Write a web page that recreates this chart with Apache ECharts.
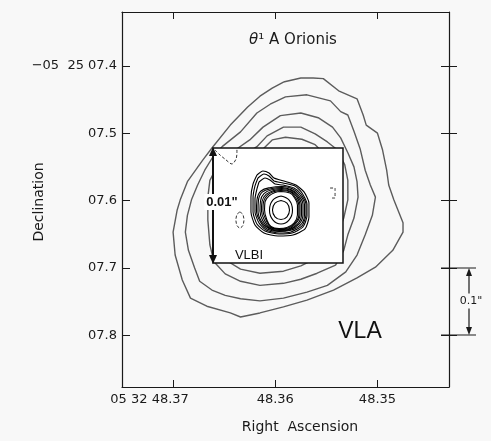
<!DOCTYPE html>
<html>
<head>
<meta charset="utf-8">
<script src="https://cdn.jsdelivr.net/npm/echarts@6/dist/echarts.min.js"></script>
<style>
html, body { margin: 0; background: #f8f8f8; }
#main { width: 491px; height: 441px; }
</style>
</head>
<body>
<div id="main"></div>
<script>
// RA axis: offset from 48.37s in ms (positive to the right), Dec axis: offset from 07.4" in 0.01"
var raTicks = [0, 10, 20];
var decTicks = [0, 10, 20, 30, 40];

// VLA contours, outer to inner
var vla1 = [[10.8, 2.4], [12.5, 1.8], [13.7, 1.8], [14.7, 1.9], [16.2, 3.7], [18.0, 4.9], [18.6, 7.3], [18.9, 8.8],
    [20.0, 10.0], [20.5, 12.5], [20.9, 15.5], [21.1, 17.7], [21.6, 19.9], [22.5, 23.3], [22.5, 24.7], [21.5, 27.4],
    [19.8, 29.9], [18.0, 31.5], [15.7, 33.3], [13.1, 34.8], [10.8, 35.8], [8.5, 36.7], [6.6, 37.3], [5.6, 36.7],
    [3.3, 35.7], [1.7, 34.5], [0.9, 31.8], [0.2, 28.1], [0.0, 24.7], [0.4, 21.4], [0.7, 19.9], [1.4, 17.2],
    [2.2, 15.5], [2.9, 14.0], [3.8, 12.2], [5.6, 8.8], [7.3, 6.1], [8.5, 4.5], [9.7, 3.3]];
var vla2 = [[9.5, 5.7], [11.0, 4.6], [13.1, 4.3], [15.4, 5.2], [16.4, 6.8], [17.1, 7.3], [17.7, 9.7], [18.3, 12.3],
    [18.8, 15.5], [19.3, 17.7], [19.8, 19.5], [19.5, 22.2], [18.8, 25.1], [18.0, 28.1], [16.9, 30.6], [15.1, 32.6],
    [13.1, 33.6], [10.8, 34.5], [8.5, 34.9], [6.6, 34.6], [5.1, 34.1], [3.8, 33.3], [2.6, 32.0], [2.1, 30.0],
    [1.5, 27.4], [1.2, 24.7], [1.4, 22.2], [1.8, 19.9], [2.4, 17.7], [3.1, 15.5], [3.9, 13.5], [4.8, 12.0],
    [6.6, 9.8], [8.2, 7.0]];
var vla3 = [[7.5, 11.0], [8.8, 9.1], [10.5, 7.4], [12.5, 7.0], [14.2, 7.7], [15.6, 9.1], [16.4, 10.7], [17.1, 12.9],
    [17.7, 15.0], [18.0, 17.2], [18.1, 19.5], [17.7, 22.6], [17.1, 25.1], [16.7, 27.4], [15.9, 29.6], [14.1, 30.8],
    [12.5, 31.7], [10.8, 32.3], [8.5, 32.6], [6.6, 32.0], [5.1, 30.9], [4.0, 29.1], [3.6, 26.6], [3.4, 22.9],
    [3.4, 19.5], [3.6, 17.0], [4.4, 14.7], [5.8, 12.8]];
var vla4 = [[8.2, 12.0], [9.2, 10.4], [10.8, 9.1], [12.5, 9.1], [13.9, 10.1], [15.1, 11.3], [16.1, 12.5], [16.8, 14.7],
    [17.1, 17.0], [17.1, 19.9], [16.7, 22.6], [15.9, 25.9], [14.4, 28.3], [12.5, 29.7], [10.8, 30.5], [8.5, 30.8],
    [6.6, 30.2], [5.1, 28.8], [4.4, 25.9], [4.3, 22.2], [4.6, 18.4], [5.4, 15.5], [6.8, 13.4]];
var vla5 = [[8.7, 12.5], [9.7, 11.0], [11.0, 10.6], [12.6, 10.9], [13.9, 11.7], [14.9, 13.2], [15.6, 16.2], [15.7, 19.9],
    [15.2, 23.6], [13.9, 26.6], [12.0, 28.1], [9.5, 28.4], [7.1, 27.7], [5.6, 25.6], [5.1, 22.2], [5.4, 18.4],
    [6.4, 15.5], [7.5, 13.7]];

// VLBI contours, offsets from the peak in 0.1 mas, outer to inner
var vlbi1 = [[-20.9, -30.4], [-15.7, -33.9], [-10.4, -32.2], [-6.1, -27.8], [2.6, -25.2], [13.0, -21.7], [20.0, -15.7], [24.3, -6.1], [24.3, 6.1], [20.9, 16.5], [10.4, 21.7], [-2.6, 22.6], [-14.8, 20.0], [-22.6, 13.0], [-26.1, 1.7], [-26.1, -11.3], [-24.3, -22.6]];
var vlbi2 = [[-20.0, -27.8], [-14.8, -31.3], [-10.4, -29.6], [-6.1, -25.2], [1.7, -23.5], [12.2, -20.9], [18.3, -14.8], [22.6, -5.2], [22.6, 5.2], [19.1, 14.8], [9.6, 20.0], [-1.7, 20.9], [-13.9, 18.3], [-20.9, 12.2], [-24.3, 1.7], [-24.3, -10.4], [-22.6, -20.9]];
var vlbi3 = [[-19.1, -24.3], [-13.9, -27.8], [-9.6, -26.1], [-5.2, -22.6], [1.7, -21.7], [11.3, -19.1], [17.4, -13.9], [21.7, -5.2], [21.7, 4.3], [18.3, 13.9], [8.7, 19.1], [-1.7, 20.0], [-13.0, 17.4], [-19.1, 11.3], [-22.6, 1.7], [-22.6, -9.6], [-20.9, -18.3]];
var vlbi4 = [[0.9, -20.4], [10.4, -18.3], [16.5, -13.0], [20.4, -4.8], [20.4, 4.3], [17.0, 13.0], [7.8, 17.8], [-1.7, 18.7], [-12.2, 16.5], [-17.8, 10.4], [-21.3, 0.9], [-20.9, -8.7], [-17.4, -16.5], [-8.7, -19.6]];
var vlbi5 = [[0.9, -19.6], [9.6, -17.4], [15.2, -12.6], [19.1, -4.8], [19.1, 4.3], [15.7, 12.2], [7.0, 17.4], [-1.7, 18.3], [-11.3, 15.7], [-17.0, 10.0], [-20.0, 0.9], [-19.6, -8.3], [-16.1, -15.7], [-7.8, -18.7]];
var vlbi6 = [[0.9, -18.7], [9.1, -17.0], [14.3, -12.2], [17.8, -4.3], [17.8, 4.3], [14.3, 12.2], [6.5, 17.0], [-1.7, 17.8], [-10.4, 15.7], [-15.7, 9.6], [-18.3, 0.9], [-17.8, -7.8], [-14.8, -14.3], [-7.0, -17.8]];
var vlbi7 = [[0.4, -17.8], [8.7, -16.1], [13.5, -11.7], [16.5, -4.3], [16.5, 4.3], [13.0, 11.7], [6.1, 16.5], [-1.7, 17.0], [-9.6, 15.2], [-14.3, 9.1], [-17.0, 0.4], [-16.5, -7.4], [-13.0, -13.5], [-6.1, -17.0]];
var vlbi8 = [[0, -17.0], [8.3, -15.7], [12.2, -11.3], [15.5, -4.3], [15.5, 4.3], [12.2, 11.3], [5.7, 15.9], [-1.7, 16.5], [-9.1, 14.8], [-13.0, 8.7], [-15.7, 0], [-15.2, -7.0], [-11.7, -12.9], [-5.7, -16.1]];
var vlbi9 = [[0, -16.1], [7.8, -14.8], [11.3, -11.3], [14.3, -4.3], [14.3, 4.3], [11.3, 11.3], [5.2, 15.2], [-1.7, 16.1], [-8.7, 14.3], [-12.2, 8.7], [-14.3, 0], [-13.9, -7.0], [-10.4, -12.2], [-5.2, -15.2]];
var vlbi10 = [[0, -12.2], [7.1, -8.6], [10.0, 0], [7.1, 8.6], [0, 12.2], [-7.1, 8.6], [-10.0, 0], [-7.1, -8.6]];
var vlbi11 = [[0, -8.3], [5.2, -5.9], [7.4, 0], [5.2, 5.9], [0, 8.3], [-5.2, 5.9], [-7.4, 0], [-5.2, -5.9]];

// negative (dashed) VLBI contours
var vlbiNegA = [[-57.4, -52.2], [-53.0, -47.8], [-48.7, -44.3], [-42.6, -40.0], [-39.1, -44.3], [-38.3, -49.6], [-38.3, -53.9]];
var vlbiNegB = [[-35.7, 1.7], [-33.2, 3.8], [-32.2, 8.7], [-33.2, 13.6], [-35.7, 15.7], [-38.2, 13.6], [-39.2, 8.7], [-38.2, 3.8], [-35.7, 1.7]];
var vlbiNegC = [[42.6, -19.1], [47.0, -19.1], [47.0, -10.4], [42.6, -10.4]];

function closed(c) {
    return c.concat([c[0]]);
}

var font = 'DejaVu Sans';
var ink = '#1a1a1a';

var series = [];
[vla1, vla2, vla3, vla4, vla5].forEach(function (c) {
    series.push({
        type: 'line', xAxisIndex: 0, yAxisIndex: 0, data: closed(c),
        symbol: 'none', silent: true, z: 2,
        lineStyle: { color: '#5c5c5c', width: 1.4 }
    });
});
[vlbi1, vlbi2, vlbi3, vlbi4, vlbi5, vlbi6, vlbi7, vlbi8, vlbi9, vlbi10, vlbi11].forEach(function (c, i) {
    series.push({
        type: 'line', xAxisIndex: 2, yAxisIndex: 3, data: closed(c),
        symbol: 'none', silent: true, z: 20, smooth: i < 3 ? 0.2 : 0.4,
        lineStyle: { color: '#000', width: 1.1 }
    });
});
[vlbiNegA, vlbiNegB, vlbiNegC].forEach(function (c) {
    series.push({
        type: 'line', xAxisIndex: 2, yAxisIndex: 3, data: c,
        symbol: 'none', silent: true, z: 20, smooth: 0.3,
        lineStyle: { color: '#333', width: 1, type: [3, 2] }
    });
});

var chart = echarts.init(document.getElementById('main'));
chart.setOption({
    backgroundColor: '#f8f8f8',
    animation: false,
    grid: [
        { left: 122, top: 12, width: 327, height: 375, show: false },
        { left: 213, top: 148, width: 130, height: 115, show: false }
    ],
    xAxis: [
        {
            gridIndex: 0, type: 'value', min: -5, max: 27, position: 'bottom',
            axisLine: { onZero: false, lineStyle: { color: ink, width: 1.2 } },
            axisTick: { inside: true, length: 7, customValues: raTicks, lineStyle: { color: ink } },
            axisLabel: {
                customValues: raTicks, margin: 6, color: ink, fontFamily: font, fontSize: 13,
                formatter: function (v) {
                    var s = (48.37 - v / 1000).toFixed(2);
                    return v === 0 ? '{p|05 32 ' + s + '}' : s;
                },
                rich: { p: { padding: [0, 47, 0, 0], color: ink, fontFamily: font, fontSize: 13 } }
            },
            splitLine: { show: false }
        },
        {
            gridIndex: 0, type: 'value', min: -5, max: 27, position: 'top',
            axisLine: { onZero: false, lineStyle: { color: ink, width: 1.2 } },
            axisTick: { inside: true, length: 7, customValues: raTicks, lineStyle: { color: ink } },
            axisLabel: { show: false },
            splitLine: { show: false }
        },
        { gridIndex: 1, type: 'value', min: -59.1, max: 53.9, show: false }
    ],
    yAxis: [
        {
            gridIndex: 0, type: 'value', min: -8, max: 47.7, inverse: true, position: 'left',
            axisLine: { onZero: false, lineStyle: { color: ink, width: 1.2 } },
            axisTick: { inside: true, length: 8, customValues: decTicks, lineStyle: { color: ink } },
            axisLabel: {
                customValues: decTicks, margin: 5, color: ink, fontFamily: font, fontSize: 13,
                formatter: function (v) {
                    var s = '0' + (7.4 + v / 100).toFixed(1);
                    return v === 0 ? '\u221205  25 ' + s : s;
                }
            },
            splitLine: { show: false }
        },
        {
            gridIndex: 0, type: 'value', min: -8, max: 47.7, inverse: true, position: 'right',
            axisLine: { onZero: false, lineStyle: { color: ink, width: 1.2 } },
            axisTick: { inside: true, length: 8, customValues: decTicks, lineStyle: { color: ink } },
            axisLabel: { show: false },
            splitLine: { show: false }
        },
        {
            gridIndex: 0, type: 'value', min: -8, max: 47.7, inverse: true, position: 'right',
            axisLine: { show: false, onZero: false },
            axisTick: { inside: false, length: 8, customValues: decTicks, lineStyle: { color: ink } },
            axisLabel: { show: false },
            splitLine: { show: false }
        },
        { gridIndex: 1, type: 'value', min: -53.9, max: 46.1, inverse: true, show: false }
    ],
    graphic: [
        // VLBI inset frame
        { type: 'rect', z: 10, shape: { x: 213, y: 148, width: 130, height: 115 },
          style: { fill: '#fff', stroke: '#111', lineWidth: 1.5 } },
        { type: 'line', z: 40, shape: { x1: 213, y1: 154, x2: 213, y2: 257 },
          style: { stroke: '#111', lineWidth: 2 } },
        { type: 'polygon', z: 40, shape: { points: [[213, 147], [209, 156], [217, 156]] }, style: { fill: '#111' } },
        { type: 'polygon', z: 40, shape: { points: [[213, 264], [209, 255], [217, 255]] }, style: { fill: '#111' } },
        { type: 'text', z: 45, style: { text: '0.01"', x: 222, y: 202, textAlign: 'center', textVerticalAlign: 'middle',
          fontFamily: 'Liberation Sans', fontSize: 13, fontWeight: 'bold', fill: '#111',
          backgroundColor: '#fff', padding: [2, 2, 1, 2] } },
        { type: 'text', z: 45, style: { text: 'VLBI', x: 249, y: 255, textAlign: 'center', textVerticalAlign: 'middle',
          fontFamily: 'Liberation Sans', fontSize: 13, fill: '#111' } },
        // 0.1" scale bar
        { type: 'line', z: 40, shape: { x1: 441, y1: 268, x2: 476, y2: 268 }, style: { stroke: ink, lineWidth: 1 } },
        { type: 'line', z: 40, shape: { x1: 441, y1: 335, x2: 476, y2: 335 }, style: { stroke: ink, lineWidth: 1 } },
        { type: 'line', z: 40, shape: { x1: 469, y1: 272, x2: 469, y2: 331 }, style: { stroke: ink, lineWidth: 1.2 } },
        { type: 'polygon', z: 40, shape: { points: [[469, 268], [466, 276], [472, 276]] }, style: { fill: ink } },
        { type: 'polygon', z: 40, shape: { points: [[469, 335], [466, 327], [472, 327]] }, style: { fill: ink } },
        { type: 'text', z: 45, style: { text: '0.1"', x: 471, y: 301, textAlign: 'center', textVerticalAlign: 'middle',
          fontFamily: font, fontSize: 11, fill: ink, backgroundColor: '#f8f8f8', padding: [2, 1, 2, 1] } },
        // labels
        { type: 'text', z: 45, style: { text: '{t|\u03b8}\u00b9 A Orionis', x: 293, y: 40, textAlign: 'center',
          textVerticalAlign: 'middle', fontFamily: font, fontSize: 15, fill: ink,
          rich: { t: { fontStyle: 'italic', fontFamily: font, fontSize: 15, fill: ink } } } },
        { type: 'text', z: 45, style: { text: 'VLA', x: 360, y: 332, textAlign: 'center', textVerticalAlign: 'middle',
          fontFamily: 'Liberation Sans', fontSize: 23, fill: '#111' } },
        { type: 'text', z: 45, style: { text: 'Right  Ascension', x: 300, y: 427, textAlign: 'center',
          textVerticalAlign: 'middle', fontFamily: font, fontSize: 14, fill: ink } },
        { type: 'text', z: 45, x: 39, y: 202, rotation: Math.PI / 2,
          style: { text: 'Declination', x: 0, y: 0, textAlign: 'center', textVerticalAlign: 'middle',
          fontFamily: font, fontSize: 14, fill: ink } }
    ],
    series: series
});
</script>
</body>
</html>
